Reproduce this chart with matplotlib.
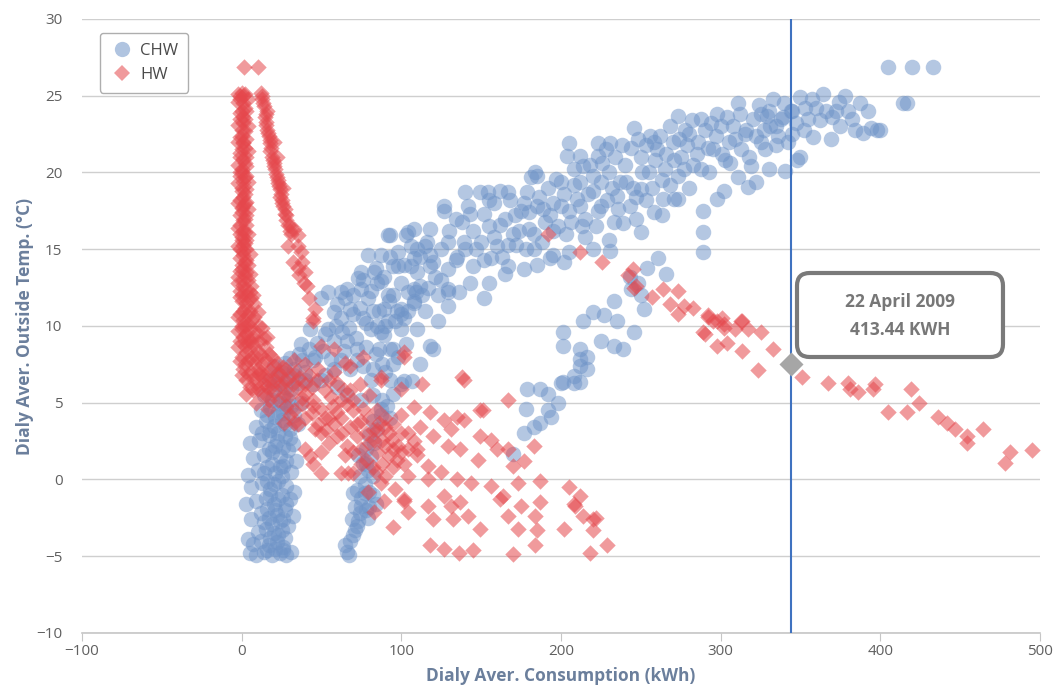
import numpy as np
import matplotlib.pyplot as plt
from matplotlib.patches import FancyBboxPatch
from matplotlib.lines import Line2D

# ---------- data: (consumption kWh, outside temp C) ----------
chw_left_col = [
    (5, -4.8), (9, -4.9), (14, -4.7), (19, -4.9), (24, -4.8), (28, -4.9), (7, -4.2), (12, -4.0),
    (17, -4.3), (22, -4.1), (26, -4.4), (31, -4.7), (4, -3.9), (10, -3.4), (15, -3.2), (20, -3.5),
    (25, -3.3), (29, -3.0), (6, -2.6), (12, -2.2), (17, -2.5), (22, -2.3), (27, -2.0), (32, -2.4),
    (3, -1.6), (9, -1.4), (15, -1.2), (20, -1.6), (25, -1.0), (30, -1.3), (6, -0.5), (13, -0.2),
    (18, -0.6), (23, -0.1), (28, -0.4), (33, -0.8), (4, 0.3), (10, 0.6), (16, 0.8), (21, 0.4),
    (26, 0.9), (31, 0.5), (7, 1.4), (14, 1.6), (19, 1.8), (24, 1.5), (29, 1.9), (34, 1.2),
    (5, 2.4), (11, 2.6), (17, 2.9), (22, 2.5), (27, 2.8), (32, 2.3), (9, 3.4), (15, 3.8),
    (20, 3.5), (25, 3.9), (30, 3.3), (35, 3.6), (12, 4.5), (18, 4.8), (23, 4.4), (28, 4.7),
    (33, 4.2), (14, 5.5), (20, 5.8), (26, 5.4), (31, 5.9), (17, 6.5), (23, 6.8), (29, 6.6),
    (35, 6.3), (20, 7.4), (27, 7.6), (33, 7.2), (38, 7.8), (40, 6.5), (37, 5.0),
    (16, -4.6), (21, -4.5), (26, -4.6), (18, -3.8), (23, -3.6), (27, -3.8), (14, -2.8), (19, -2.9),
    (24, -2.7), (16, -1.9), (21, -2.0), (26, -2.6), (18, -1.0), (23, -1.3), (28, -1.6), (16, -0.1),
    (20, -0.3), (25, 0.2), (14, 0.4), (19, 1.0), (24, 0.8), (28, 1.2), (17, 2.0), (21, 2.2),
    (26, 2.1), (30, 2.7), (13, 3.0), (18, 3.2), (23, 3.0), (27, 3.6), (16, 4.2), (21, 4.1),
    (26, 4.3), (31, 4.8), (19, 5.2), (24, 5.0), (29, 5.2), (22, 6.2), (27, 6.0), (32, 6.8),
    (25, 7.0), (30, 7.9), (36, 8.2), (42, 8.5), (47, 8.9),
]
chw_mid_col = [
    (65, -4.3), (67, -4.9), (70, -3.6), (72, -3.0), (69, -2.6), (74, -2.2), (71, -1.8), (75, -1.2),
    (72, -0.7), (77, -0.3), (74, 0.2), (79, 0.6), (76, 1.1), (81, 1.5), (78, 2.0), (83, 2.4),
    (80, 2.9), (85, 3.3), (82, 3.8), (87, 4.2), (84, -1.6), (79, -2.5), (70, -0.9), (73, 1.6),
    (91, 4.8), (93, 4.0), (68, -4.0), (66, -4.7), (71, -3.3), (73, -2.7), (75, -1.7), (77, -0.9),
    (78, -2.0), (80, -0.8), (82, 0.2), (80, -1.8), (78, 1.0), (82, -1.0),
]
chw_cluster = [
    (43, 9.8), (37, 8.8), (49.5, 11.8), (62, 10.5), (71.4, 9.2), (80.8, 9.8), (84, 8.2), (93, 8.5),
    (93, 6.5), (80.8, 6.5), (68, 7.2), (55.7, 7.85), (49.5, 6.5), (74.5, 5.2), (87, 4.6), (99.6, 6.2),
    (65, 11.8), (99.6, 9.8), (53.8, 12.2), (62, 12.2), (74.5, 12.4), (72.6, 13.1), (79, 14.6), (87, 14.6),
    (93, 15.9), (104, 16.1), (74.5, 13.5), (82.7, 13.5), (95, 13.9), (105.8, 13.9), (57.6, 10.9), (68, 11.1),
    (79, 11.8), (91.4, 12.0), (104, 12.2), (112, 12.6), (122.7, 12.0), (129, 12.4), (151.5, 11.8), (58, 9.0),
    (64, 8.4), (76, 10.5), (86, 11.0), (90, 10.0), (97, 11.0), (102, 10.5), (108, 11.5), (115, 11.0),
    (60, 6.0), (66, 5.5), (72, 7.8), (78, 8.6), (88, 7.5), (95, 7.5), (45, 7.8), (52, 9.5),
    (100, 12.8), (110, 13.5), (118, 14.6), (85, 12.8), (107.7, 14.4), (97.7, 13.9), (118, 13.9), (129, 13.7),
    (145, 13.9), (156, 14.4), (166.6, 13.9), (176.6, 13.7), (183, 15.0), (195, 14.6), (201.6, 14.2), (220, 15.0),
    (231, 14.9), (129, 12.2), (129, 11.3), (107.7, 12.4), (95, 12.0), (89, 11.1), (87, 12.9), (99.6, 11.1),
    (107.7, 11.6), (122.7, 10.3), (118, 8.7), (95, 8.5), (91.4, 10.3), (87, 9.6), (119.6, 8.5), (107, 6.4),
    (101.4, 6.4), (40, 7.0), (46, 8.0), (51, 8.4), (54, 9.8), (59, 10.0), (63, 9.6), (67, 9.9),
    (70, 10.8), (74, 11.2), (78, 10.2), (82, 11.0), (85, 10.0), (89, 9.4), (92, 11.6), (96, 10.3),
    (100, 10.8), (104, 11.0), (109, 12.2), (113, 12.0), (117, 12.5), (121, 13.2), (125, 13.0), (60, 11.4),
    (66, 12.4), (70, 12.0), (76, 13.0), (81, 12.3), (84, 13.8), (89, 13.2), (93, 14.5), (98, 14.8),
    (102, 14.0), (106, 15.2), (112, 14.5), (116, 15.5), (66, 9.0), (72, 8.5), (76, 7.4), (82, 7.2),
    (86, 8.5), (90, 7.0), (58, 7.2), (62, 7.8), (52, 6.8), (45, 6.2), (82, 5.5), (88, 5.2),
    (95, 5.6), (98, 8.0), (103, 8.8), (110, 9.8), (112, 7.5),
]
chw_band = [
    (91.4, 15.9), (102.7, 15.9), (107.7, 16.3), (118, 16.3), (126.5, 17.5), (134, 17.0), (140, 18.7), (149.6, 18.7),
    (162, 18.8), (166.6, 18.7), (179, 18.7), (185, 19.8), (204, 21.1), (212, 21.1), (223, 21.1), (200, 19.4),
    (212, 19.4), (225, 19.4), (237, 19.4), (250, 18.9), (264, 18.3), (270.5, 18.3), (258, 17.4), (239, 16.7),
    (250, 16.1), (129, 15.5), (139, 15.5), (126.5, 17.8), (141.5, 17.8), (154, 18.7),
    (150, 15.5), (155, 16.5), (160, 15.2), (165, 17.0), (170, 16.0), (175, 17.5), (180, 16.3), (185, 17.8),
    (190, 16.8), (195, 18.0), (198, 16.5), (152, 17.3), (158, 18.0), (168, 18.2), (172, 15.3), (178, 15.0),
    (188, 15.5), (193, 17.2), (145, 16.2), (140, 15.0), (135, 14.5), (125, 15.0), (115, 15.2), (120, 14.2),
    (110, 15.0), (205, 17.5), (210, 18.3), (215, 17.0), (220, 18.8), (225, 17.8), (230, 20.0), (235, 18.5),
    (240, 20.5), (245, 19.0), (250, 21.0), (255, 20.0), (260, 21.5), (265, 20.2), (270, 22.0), (275, 21.0),
    (280, 22.5), (285, 21.2), (290, 22.8), (295, 21.5), (300, 23.0), (305, 22.0), (208, 20.2), (218, 20.5),
    (228, 21.5), (238, 21.8), (248, 22.2), (258, 22.0), (268, 23.0), (278, 22.8), (288, 23.5), (298, 23.8),
    (308, 23.0), (203, 16.0), (213, 16.5), (223, 17.5), (233, 16.8), (243, 17.8), (253, 18.2), (263, 19.5),
    (273, 19.8), (283, 20.5), (293, 20.0), (303, 20.8), (313, 21.5), (245.5, 22.9), (256, 22.4), (205, 21.9),
    (223, 21.9), (231, 21.9), (184, 20.0), (181, 19.7), (273, 23.7), (311, 24.5), (298, 18.3), (273, 18.3),
    (289, 17.5), (289, 16.1), (289, 14.8), (317, 19.05), (340.6, 20.1), (350, 21.0), (310.6, 19.7),
    (315, 22.5), (320, 23.5), (325, 22.0), (330, 24.0), (335, 23.0), (340, 24.5), (345, 22.5), (350, 24.9),
    (355, 23.5), (358, 22.3), (364, 25.1), (369, 22.2), (372, 24.0), (378, 25.0), (382, 23.5), (387.6, 24.5),
    (389, 22.6), (398, 22.8), (405, 26.9), (420, 26.9), (433, 26.9), (417, 24.5), (414, 24.5), (329, 23.7),
    (345, 24.0), (338, 23.5), (325, 23.8), (318, 21.0), (328, 21.5), (335, 21.8), (360, 24.2), (375, 23.0),
    (392, 24.0),
    (130, 16.2), (134, 14.3), (138, 16.8), (143, 17.3), (147, 15.0), (152, 14.3), (155, 18.2), (158, 15.8),
    (162, 16.6), (163, 14.5), (167, 15.3), (171, 17.2), (174, 16.2), (177, 18.0), (180, 17.4), (183, 16.0),
    (186, 18.4), (189, 17.6), (192, 19.0), (195, 16.2), (197, 19.6), (200, 17.8), (202, 18.6), (206, 16.8),
    (208, 19.2), (212, 17.8), (214, 20.4), (217, 18.6), (220, 19.8), (222, 16.5), (226, 20.6), (229, 18.2),
    (232, 19.0), (234, 21.0), (236, 17.6), (241, 19.4), (244, 21.6), (247, 18.4), (251, 20.0), (253, 21.8),
    (257, 19.0), (259, 20.8), (262, 22.4), (266, 21.2), (268, 19.2), (271, 20.8), (274, 22.2), (277, 20.2),
    (279, 21.8), (282, 23.4), (286, 22.0), (288, 20.2), (292, 21.6), (294, 23.2), (297, 22.4), (301, 21.2),
    (304, 23.6), (306, 20.6), (309, 22.2), (312, 23.8), (316, 22.8), (319, 20.4), (322, 22.4), (324, 24.4),
    (327, 22.8), (331, 23.0), (333, 24.8), (336, 22.4), (339, 23.6), (342, 22.0), (344, 24.0), (347, 23.2),
    (352, 22.8), (353, 24.2), (357, 24.8), (362, 23.4), (366, 24.0), (370, 23.6), (374, 24.6), (380, 24.0),
    (384, 22.8), (394, 22.9), (400, 22.8), (348, 20.8), (330, 20.2), (322, 19.4), (302, 18.8), (280, 19.0),
    (263, 17.2), (247, 17.0), (230, 15.6), (215, 15.8), (205, 14.8), (193, 14.4), (185, 14.0), (165, 13.4),
    (155, 12.8), (143, 12.8), (136, 12.2),
]
chw_arc = [
    (201, 9.6), (201, 8.7), (212, 8.5), (214, 10.3), (220, 10.9), (227, 10.7), (233, 11.6), (235, 10.3),
    (245.5, 9.6), (225, 9.0), (233, 8.7), (239, 8.5), (243.6, 12.4), (252, 11.1), (260.5, 14.4), (254, 13.8),
    (265.5, 13.4), (250, 12.0), (212, 7.85), (216.6, 7.2), (208, 6.75), (201, 6.35), (212, 6.35), (179, 5.9),
    (187, 5.9), (191.6, 5.6), (178, 4.6), (191.6, 4.5), (200, 6.3), (208, 6.3), (212, 7.4), (216.6, 8.0),
    (176.6, 3.0), (183, 3.4), (187, 3.7), (198, 5.0), (193.5, 4.1), (169.7, 1.66), (243, 13.2), (248, 12.8),
]

hw_col = [
    (0, 25.2), (-1, 24.8), (1, 24.5), (0, 24.0), (-1, 23.5), (1, 23.2), (0, 22.8), (-1, 22.3),
    (1, 21.9), (0, 21.5), (-1, 21.0), (2, 20.6), (0, 20.2), (-1, 19.8), (1, 19.4), (0, 19.0),
    (2, 18.6), (-1, 18.2), (1, 17.8), (0, 17.4), (2, 17.0), (-1, 16.6), (1, 16.2), (0, 15.8),
    (2, 15.4), (-1, 15.0), (1, 14.6), (3, 14.3), (0, 14.0), (-1, 13.6), (2, 13.3), (4, 13.0),
    (1, 12.7), (-1, 12.3), (3, 12.0), (6, 11.8), (0, 11.6), (2, 11.2), (5, 11.0), (-1, 10.8),
    (8, 10.6), (1, 10.4), (4, 10.1), (11, 10.0), (0, 9.8), (3, 9.5), (7, 9.3), (14, 9.2),
    (-1, 9.0), (2, 8.7), (5, 8.5), (10, 8.4), (17, 8.2), (0, 8.0), (4, 7.8), (8, 7.6),
    (13, 7.5), (20, 7.4), (1, 7.2), (6, 7.0), (11, 6.9), (16, 6.8), (24, 6.9), (3, 6.5),
    (9, 6.3), (14, 6.2), (19, 6.1), (28, 6.4), (7, 5.8), (12, 5.7), (1.3, 26.9), (10, 26.9),
    (1, 25.0), (-2, 24.6), (2, 24.2), (-1, 23.9), (1, 23.6), (-2, 23.1), (2, 22.7), (0, 22.4),
    (-2, 22.0), (2, 21.6), (-1, 21.3), (1, 20.9), (-2, 20.5), (0, 20.0), (2, 19.7), (-2, 19.3),
    (0, 18.8), (1, 18.4), (-2, 18.0), (0, 17.7), (-1, 17.2), (1, 16.9), (-2, 16.4), (2, 16.1),
    (0, 15.6), (-2, 15.2), (1, 14.9), (-1, 14.4), (2, 14.1), (0, 13.7), (-2, 13.2), (1, 13.0),
    (3, 13.5), (3, 15.0), (3, 16.6), (3, 18.1), (3, 19.8), (2, 23.5), (-1, 25.0), (3, 21.0),
    (-2, 12.8), (2, 12.4), (5, 12.2), (-1, 11.9), (3, 11.5), (8, 11.4), (1, 11.0), (-2, 10.6),
    (4, 10.7), (6, 10.3), (10, 10.9), (2, 10.0), (-2, 9.7), (5, 9.8), (9, 9.6), (13, 9.9),
    (1, 9.3), (4, 9.1), (11, 9.0), (16, 9.3), (-2, 8.6), (3, 8.3), (7, 8.8), (12, 8.1),
    (15, 8.6), (19, 8.0), (-1, 7.7), (2, 7.5), (6, 7.9), (10, 7.2), (15, 7.8), (18, 7.1),
    (22, 7.6), (26, 7.3), (0, 6.8), (4, 6.9), (8, 6.6), (13, 6.7), (17, 6.4), (21, 6.5),
    (25, 6.3), (31, 6.8), (5, 6.0), (10, 5.9), (15, 5.5), (20, 5.7), (23, 5.2), (9, 5.0),
    (17, 5.2), (27, 5.5),
    (4, 24.8), (3, 24.0), (4, 23.0), (3, 22.2), (4, 21.4), (3, 20.4), (4, 19.4), (3, 18.9),
    (4, 17.6), (3, 17.2), (4, 16.0), (3, 15.6), (5, 14.7), (4, 14.0), (5, 13.4), (6, 12.6),
    (7, 12.0), (2, 25.1), (-2, 25.1), (1, 22.0), (-1, 20.0), (2, 18.0), (-1, 16.0), (1, 15.3),
    (0, 12.0), (0, 10.0), (2, 9.0), (6, 9.0), (9, 8.0), (12, 7.0), (16, 6.0), (3, 5.6),
    (22, 6.9),
]
hw_diag = [
    (12, 25.2), (13, 24.8), (14, 24.3), (15, 23.8), (15, 23.3), (16, 22.8), (17, 22.4), (18, 21.9),
    (18, 21.4), (19, 21.0), (20, 20.6), (21, 20.2), (22, 19.7), (23, 19.3), (24, 18.9), (24, 18.4),
    (25, 18.0), (27, 17.6), (28, 17.2), (30, 16.5), (35, 15.9), (29, 15.2), (37, 14.8), (32, 14.2),
    (35, 13.8), (40, 13.5), (41, 12.6), (42, 11.8), (46, 11.1), (45, 10.5), (16, 24.0), (20, 22.0),
    (22, 21.0), (26, 19.0),
    (12.5, 25.0), (13.5, 24.5), (14.5, 23.6), (15.5, 23.1), (16.5, 22.6), (17.5, 22.1), (18.5, 21.6),
    (19.5, 20.8), (20.5, 20.4), (21.5, 19.9), (22.5, 19.5), (23.5, 19.1), (24.5, 18.6), (25.5, 18.2),
    (26, 17.8), (27, 17.3), (28, 16.9), (29, 16.6), (30, 16.2), (31, 16.0), (33, 16.3), (35, 15.2),
    (38, 14.2), (36, 13.3), (39, 12.8),
]
hw_cluster = [
    (25, 6.0), (30, 5.5), (35, 6.0), (40, 5.6), (45, 5.2), (28, 4.8), (33, 4.5), (38, 4.9),
    (44, 4.3), (50, 4.6), (55, 4.0), (60, 4.4), (48, 3.6), (53, 3.2), (58, 3.6), (63, 3.0),
    (68, 3.4), (72, 2.8), (66, 2.2), (75, 2.0), (80, 2.4), (85, 1.8), (78, 1.3), (88, 1.0),
    (92, 1.5), (95, 0.8), (70, 4.5), (75, 3.8), (82, 3.2), (88, 2.6), (92, 3.0), (98, 2.2),
    (62, 5.2), (68, 5.8), (74, 6.2), (80, 5.5), (55, 6.5), (48, 7.2), (40, 7.5), (33, 7.8),
    (58, 7.0), (65, 7.6), (16.3, 4.6), (26.3, 3.7), (32.6, 3.7), (49.5, 1.8), (43, 1.5), (49.5, 0.4),
    (62, 0.4), (66.4, 0.4), (70, 0.4), (87, -0.2), (79, -0.8), (89, -1.4), (101.5, -1.4), (95, -3.1),
    (104, -2.1), (82.7, -2.1), (45, 10.3), (49.5, 8.7), (57.6, 8.5), (76, 8.0), (68, 7.4), (87, 6.7),
    (101.5, 8.3), (99.6, 5.9), (113, 6.2), (138, 6.7), (101.5, 8.0), (87, 6.5), (85, 4.5), (90, 4.0),
    (95, 3.6), (100, 4.2), (104, 3.0), (108, 2.5), (110, 1.6), (96, -0.6), (84, 0.5),
    (32, 6.2), (36, 6.6), (40, 6.2), (44, 6.0), (38, 5.3), (30, 4.2), (35, 3.6), (40, 4.0),
    (46, 3.3), (52, 4.0), (57, 4.8), (62, 4.0), (66, 4.9), (72, 3.6), (78, 3.0), (83, 2.6),
    (86, 3.7), (90, 2.2), (94, 2.6), (97, 1.3), (102, 1.0), (100, 3.0),
    (28, 7.2), (34, 7.0), (42, 6.8), (47, 6.5), (52, 5.8), (56, 5.4), (60, 6.3), (64, 5.8),
    (70, 5.2), (76, 4.6), (80, 4.0), (85, 3.2), (90, 3.4), (95, 2.0), (100, 1.8), (45, 4.8),
    (50, 3.0), (55, 2.4), (60, 2.8), (65, 1.6), (70, 1.8), (75, 1.0), (82, 0.8), (90, 0.2),
    (40, 2.0), (45, 1.0),
]
hw_scatter = [
    (139, 6.5), (149.6, 4.5), (107.7, 4.7), (118, 4.4), (126.5, 3.9), (135, 4.1), (139, 3.9), (112, 3.4),
    (120, 2.8), (131, 3.3), (149.6, 2.8), (156, 2.6), (104, 2.0), (110, 2.0), (129, 2.2), (137, 2.0),
    (148, 1.3), (160, 2.0), (166.6, 2.0), (176.6, 1.2), (170, 0.9), (104, 0.2), (116.5, 0.9), (116.5, 0.0),
    (124.6, 0.5), (135, 0.0), (143.4, -0.2), (156, -0.4), (164, -1.1), (172.8, -0.2), (187, -0.1), (204.8, -0.5),
    (212, -1.1), (208, -1.6), (101.4, -1.3), (116.5, -1.7), (126.5, -1.1), (131, -1.7), (137, -1.5), (162, -1.3),
    (174.7, -1.7), (187, -1.5), (120, -2.6), (132.7, -2.6), (141.5, -2.4), (149.6, -3.2), (166.6, -2.4),
    (172.8, -3.2), (185, -3.3), (201.6, -3.2), (220, -3.3), (214, -2.4), (220, -2.6), (118, -4.3), (126.5, -4.5),
    (136, -4.8), (145, -4.6), (170, -4.85), (184, -4.3), (218.5, -4.8), (229, -4.3), (166.6, 5.2), (183, 2.2),
    (184, -2.4), (209, -1.7), (221.7, -2.5), (151, 4.5),
]
hw_branch = [
    (191.6, 16.0), (212, 14.8), (226, 14.2), (245, 13.7), (242, 13.3), (245.5, 12.5), (257, 11.9), (264, 12.4),
    (268.6, 11.4), (276.8, 11.3), (283, 11.2), (273.6, 10.8), (292.4, 10.6), (298, 10.3), (302, 10.1), (313.7, 10.3),
    (317, 9.8), (325, 9.6), (289, 9.6), (246.7, 12.6), (273.6, 12.3), (291.8, 10.7), (301, 10.5), (295.5, 10.3),
    (302, 9.9), (312.5, 10.3), (309, 9.8), (290.5, 9.5), (298, 8.7), (304, 8.9), (313.7, 8.4), (332.5, 8.5),
    (323.7, 7.1), (353, 8.7), (351, 6.7), (367.5, 6.3), (380, 6.3), (381, 5.9), (386, 5.7), (397, 6.2),
    (395.7, 5.9), (405, 4.4), (417, 4.4), (419, 5.9), (424, 5.0), (436, 4.1), (442, 3.7), (447, 3.3),
    (454.6, 2.8), (454.6, 2.4), (464.6, 3.3), (478, 1.1), (481.5, 1.8), (495, 1.9),
]

hover_x, hover_y = 343.8, 7.5
tooltip_lines = ["22 April 2009", "413.44 KWH"]

chw = np.array(chw_left_col + chw_mid_col + chw_cluster + chw_band + chw_arc)
hw = np.array(hw_col + hw_diag + hw_cluster + hw_scatter + hw_branch)

# ---------- plot ----------
plt.rcParams["font.family"] = ["Open Sans", "DejaVu Sans"]
BLUE = "#6f94c8"
RED = "#e5474c"
LABEL = "#6b7f9c"

fig = plt.figure(figsize=(10.59, 6.88), dpi=100)
ax = fig.add_axes([0.0774, 0.080, 0.9046, 0.8924])

ax.scatter(chw[:, 0], chw[:, 1], s=125, marker="o", color=BLUE, alpha=0.52,
           linewidths=0, zorder=3)
ax.scatter(hw[:, 0], hw[:, 1], s=70, marker="D", color=RED, alpha=0.55,
           linewidths=0, zorder=4)

ax.axvline(hover_x, color="#3f72c0", lw=1.5, zorder=5)
ax.scatter([hover_x], [hover_y], s=150, marker="D", color="#a6a6a6", zorder=6, linewidths=0)

ax.set_xlim(-100, 500)
ax.set_ylim(-10, 30)
ax.set_xticks(np.arange(-100, 501, 100))
ax.set_yticks(np.arange(-10, 31, 5))
ax.grid(axis="y", color="#cfcfcf", lw=1)
ax.set_axisbelow(True)
for s in ["top", "right", "left"]:
    ax.spines[s].set_visible(False)
ax.spines["bottom"].set_color("#c6c6c6")
ax.spines["bottom"].set_linewidth(1.2)
ax.tick_params(axis="y", length=0, labelsize=11, labelcolor="#606060", pad=14)
ax.tick_params(axis="x", length=6, color="#c6c6c6", labelsize=11, labelcolor="#606060", pad=2)

ax.set_xlabel("Dialy Aver. Consumption (kWh)", fontsize=12.5, fontweight="bold",
              color=LABEL, labelpad=6)
ax.set_ylabel("Dialy Aver. Outside Temp. (°C)", fontsize=12.5, fontweight="bold",
              color=LABEL, labelpad=2)

handles = [
    Line2D([], [], marker="o", ls="none", markersize=11, color=BLUE, alpha=0.55, markeredgewidth=0),
    Line2D([], [], marker="D", ls="none", markersize=8, color=RED, alpha=0.55, markeredgewidth=0),
]
leg = ax.legend(handles, ["CHW", "HW"], loc="upper left", bbox_to_anchor=(0.0188, 0.977),
                borderaxespad=0, fontsize=12, frameon=True, fancybox=True,
                handletextpad=0.3, labelspacing=0.45, borderpad=0.6, handlelength=1.5)
leg.get_frame().set_edgecolor("#9a9a9a")
leg.get_frame().set_linewidth(1.0)
for t in leg.get_texts():
    t.set_color("#4a4a4a")

# tooltip box
box = FancyBboxPatch((0.7526, 0.4811), 0.1945, 0.1221, transform=fig.transFigure,
                     boxstyle="round,pad=0,rounding_size=0.012", mutation_aspect=1059 / 688,
                     facecolor="white", edgecolor="#7a7a7a", linewidth=3, zorder=10)
fig.patches.append(box)
fig.text(0.8498, 1 - 302 / 688, tooltip_lines[0], ha="center", va="center", fontsize=12.5,
         fontweight="bold", color="#777777", zorder=11)
fig.text(0.8498, 1 - 330 / 688, tooltip_lines[1], ha="center", va="center", fontsize=12.5,
         fontweight="bold", color="#777777", zorder=11)

fig.savefig("out.png", dpi=100)
